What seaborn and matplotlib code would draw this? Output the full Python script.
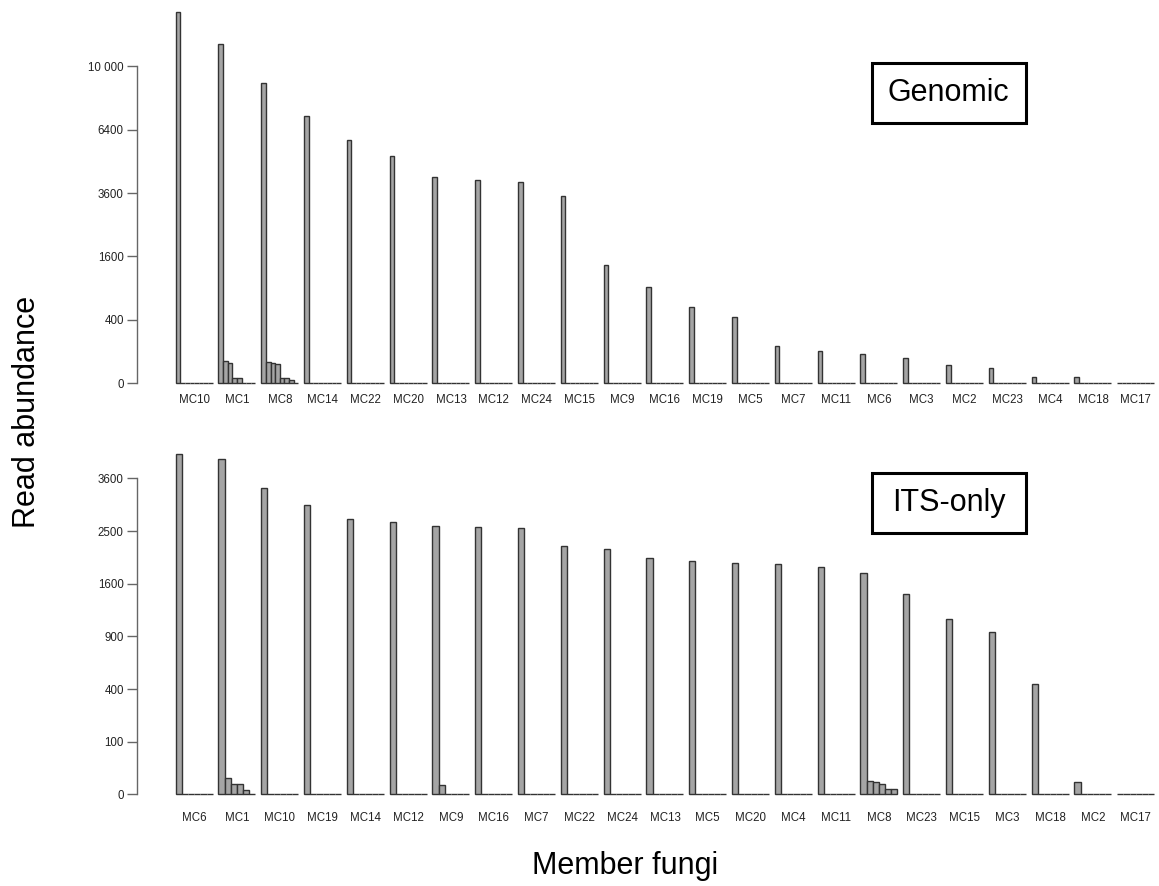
import numpy as np
import pandas as pd
import matplotlib
matplotlib.use('Agg')
import matplotlib.pyplot as plt
from matplotlib.patches import Rectangle
import seaborn as sns

# genomic reads per member, main variant first
genomic_members = ['MC10', 'MC1', 'MC8', 'MC14', 'MC22', 'MC20', 'MC13', 'MC12', 'MC24', 'MC15', 'MC9',
                   'MC16', 'MC19', 'MC5', 'MC7', 'MC11', 'MC6', 'MC3', 'MC2', 'MC23', 'MC4', 'MC18', 'MC17']
genomic_main = [13760, 11490, 9000, 7135, 5880, 5145, 4225, 4110, 4020, 3490, 1390,
                914, 581, 431, 134, 102, 82, 64, 31, 21.5, 3.2, 3.2, 0]
# extra variants (2..8) for members that have them
genomic_extra = {'MC1': [47, 39, 2.8, 2.2, 0, 0, 0],
                 'MC8': [46, 40, 37, 2.5, 2.2, 0.8, 0]}

its_members = ['MC6', 'MC1', 'MC10', 'MC19', 'MC14', 'MC12', 'MC9', 'MC16', 'MC7', 'MC22', 'MC24',
               'MC13', 'MC5', 'MC20', 'MC4', 'MC11', 'MC8', 'MC23', 'MC15', 'MC3', 'MC18', 'MC2', 'MC17']
its_main = [4167, 4060, 3388, 3011, 2725, 2680, 2601, 2581, 2550, 2228, 2174,
            2008, 1967, 1929, 1907, 1868, 1761, 1451, 1111, 953, 438, 5.2, 0]
its_extra = {'MC1': [9.5, 3.6, 3.6, 0.7, 0],
             'MC9': [3.1, 0, 0, 0, 0],
             'MC8': [6.4, 5.7, 3.6, 0.9, 0.9]}


def long_table(members, main, extra, nvar):
    rows = []
    for m, v in zip(members, main):
        vals = [v] + extra.get(m, [0] * (nvar - 1))
        for k, x in enumerate(vals):
            rows.append({'member': m, 'variant': str(k + 1), 'reads': x})
    return pd.DataFrame(rows)


df_gen = long_table(genomic_members, genomic_main, genomic_extra, 8)
df_its = long_table(its_members, its_main, its_extra, 6)

sns.set_style('white')
plt.rcParams['font.family'] = ['Liberation Sans', 'DejaVu Sans']

fig = plt.figure(figsize=(11.59, 8.86), dpi=100)
W, H = 1159, 886
left, right = 137 / W, 1155 / W
ax1 = fig.add_axes([left, 1 - 383 / H, right - left, (383 - 5) / H])
ax2 = fig.add_axes([left, 1 - 794.3 / H, right - left, (794.3 - 450) / H])

sq = (lambda x: np.sqrt(np.clip(x, 0, None)), lambda x: np.square(x))


def panel(ax, df, members, nvar, ticks, labels, ymax, pad):
    sns.barplot(data=df, x='member', y='reads', hue='variant', order=members,
                palette=['#a5a5a5'] * nvar, saturation=1, width=0.865, gap=0, errorbar=None,
                edgecolor='#333333', linewidth=1.0, legend=False, ax=ax)
    for p in ax.patches:
        p.set_clip_on(False)
    ax.set_yscale('function', functions=sq)
    ax.set_ylim(0, ymax)
    ax.set_xlim(-1.336, 22.45)
    ax.set_yticks(ticks)
    ax.set_yticklabels(labels)
    for s in ['top', 'right', 'bottom']:
        ax.spines[s].set_visible(False)
    ax.spines['left'].set_bounds(0, ticks[-1])
    ax.spines['left'].set_color('#666666')
    ax.spines['left'].set_linewidth(1.0)
    ax.tick_params(axis='y', length=7.5, width=1.0, color='#666666', labelsize=8.3,
                   labelcolor='#222222', pad=2, left=True)
    ax.tick_params(axis='x', length=0, labelsize=8.3, labelcolor='#222222', pad=pad)
    ax.set_xlabel('')
    ax.set_ylabel('')
    ax.set_facecolor('none')


panel(ax1, df_gen, genomic_members, 8, [0, 400, 1600, 3600, 6400, 10000],
      ['0', '400', '1600', '3600', '6400', '10 000'], 119.4 ** 2, 8)
panel(ax2, df_its, its_members, 6, [0, 100, 400, 900, 1600, 2500, 3600],
      ['0', '100', '400', '900', '1600', '2500', '3600'], 65.4 ** 2, 12.5)

# labelled boxes
for y0, txt in [(63.3, 'Genomic'), (473.3, 'ITS-only')]:
    fig.patches.append(Rectangle((871.7 / W, 1 - (y0 + 60) / H), 154 / W, 60 / H,
                                 transform=fig.transFigure, fill=False,
                                 edgecolor='black', linewidth=2.2))
    fig.text(948.7 / W, 1 - (y0 + 30) / H, txt, ha='center', va='center',
             fontsize=22, color='black')

fig.text(625 / W, 1 - 866 / H, 'Member fungi', ha='center', va='center',
         fontsize=22, color='black')
fig.text(27 / W, 1 - 412 / H, 'Read abundance', ha='center', va='center',
         rotation=90, fontsize=22, color='black')

fig.savefig('out.png', dpi=100)
